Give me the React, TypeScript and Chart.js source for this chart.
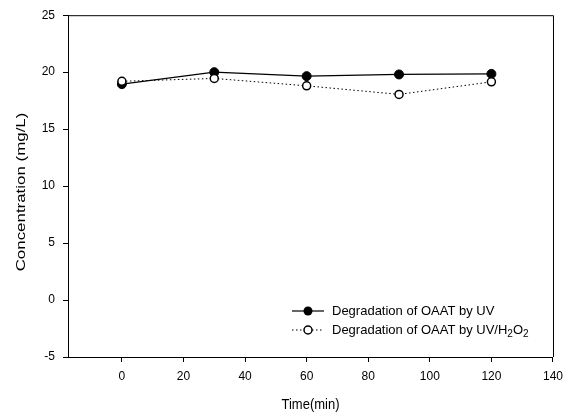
import React, { useEffect, useRef } from "react";
import { Chart, registerables } from "chart.js";

Chart.register(...registerables);

const timeMin = [0, 30, 60, 90, 120];
const uvConc = [18.95, 20.0, 19.65, 19.8, 19.85];
const uvH2O2Conc = [19.2, 19.45, 18.8, 18.05, 19.15];
const xTicks = [0, 20, 40, 60, 80, 100, 120, 140];
const yTicks = [-5, 0, 5, 10, 15, 20, 25];
const xTitle = "Time(min)";
const yTitle = "Concentration (mg/L)";
const legendUV = "Degradation of OAAT by UV";
const legendH2O2Parts = [
  { t: "Degradation of OAAT by UV/H", sub: false },
  { t: "2", sub: true },
  { t: "O", sub: false },
  { t: "2", sub: true },
];

const FONT = "'Liberation Sans', Arial, Helvetica, sans-serif";

const decorPlugin = {
  id: "decor",
  afterDatasetsDraw(chart: any) {
    const { ctx, chartArea } = chart;
    const { left, right, top, bottom } = chartArea;
    ctx.save();
    // frame top & right
    ctx.strokeStyle = "#000";
    ctx.lineWidth = 1;
    ctx.beginPath();
    ctx.moveTo(left, top + 0.5);
    ctx.lineTo(right + 0.5, top + 0.5);
    ctx.lineTo(right + 0.5, bottom);
    ctx.stroke();

    // legend
    const sx0 = 292, sx1 = 324, mx = 308, tx = 332;
    const rows = [311, 330];
    ctx.fillStyle = "#000";
    ctx.setLineDash([]);
    ctx.lineWidth = 1.2;
    ctx.beginPath();
    ctx.moveTo(sx0, rows[0]);
    ctx.lineTo(sx1, rows[0]);
    ctx.stroke();
    ctx.beginPath();
    ctx.arc(mx, rows[0], 4.5, 0, Math.PI * 2);
    ctx.fill();
    ctx.lineWidth = 1;
    ctx.setLineDash([1.5, 2.5]);
    ctx.beginPath();
    ctx.moveTo(sx0, rows[1]);
    ctx.lineTo(sx1, rows[1]);
    ctx.stroke();
    ctx.setLineDash([]);
    ctx.beginPath();
    ctx.arc(mx, rows[1], 4, 0, Math.PI * 2);
    ctx.fillStyle = "#fff";
    ctx.fill();
    ctx.lineWidth = 1.5;
    ctx.stroke();

    ctx.fillStyle = "#000";
    ctx.textBaseline = "middle";
    ctx.textAlign = "left";
    ctx.font = `13px ${FONT}`;
    ctx.fillText(legendUV, tx, rows[0]);
    let x = tx;
    for (const p of legendH2O2Parts) {
      if (p.sub) {
        ctx.font = `10px ${FONT}`;
        ctx.fillText(p.t, x, rows[1] + 4);
      } else {
        ctx.font = `13px ${FONT}`;
        ctx.fillText(p.t, x, rows[1]);
      }
      x += ctx.measureText(p.t).width;
    }

    // y title
    ctx.save();
    ctx.translate(21, 192);
    ctx.rotate(-Math.PI / 2);
    ctx.scale(1.3, 1);
    ctx.font = `13px ${FONT}`;
    ctx.textAlign = "center";
    ctx.textBaseline = "middle";
    ctx.fillText(yTitle, 0, 0);
    ctx.restore();

    // x title
    ctx.save();
    ctx.translate((left + right) / 2, 405);
    ctx.scale(1, 1.15);
    ctx.font = `13px ${FONT}`;
    ctx.textAlign = "center";
    ctx.textBaseline = "middle";
    ctx.fillText(xTitle, 0, 0);
    ctx.restore();
    ctx.restore();
  },
};

export default function App() {
  const ref = useRef<HTMLCanvasElement | null>(null);
  useEffect(() => {
    document.body.style.margin = "0";
    if (!ref.current) return;
    Chart.defaults.font.family = FONT;
    const chart = new Chart(ref.current, {
      type: "line",
      data: {
        datasets: [
          {
            label: legendUV,
            data: timeMin.map((t, i) => ({ x: t, y: uvConc[i] })),
            borderColor: "#000",
            borderWidth: 1.2,
            pointRadius: 4.5,
            pointBackgroundColor: "#000",
            pointBorderColor: "#000",
            pointBorderWidth: 1,
            order: 2,
          },
          {
            label: "Degradation of OAAT by UV/H2O2",
            data: timeMin.map((t, i) => ({ x: t, y: uvH2O2Conc[i] })),
            borderColor: "#000",
            borderWidth: 1,
            borderDash: [1.5, 2.5],
            pointRadius: 4,
            pointBackgroundColor: "#fff",
            pointBorderColor: "#000",
            pointBorderWidth: 1.5,
            order: 1,
          },
        ],
      },
      options: {
        responsive: false,
        animation: false,
        layout: { padding: { left: 0, right: 17, top: 15, bottom: 0 } },
        plugins: { legend: { display: false }, tooltip: { enabled: false } },
        scales: {
          x: {
            type: "linear",
            min: -17.5,
            max: 140,
            afterBuildTicks: (s: any) => {
              s.ticks = xTicks.map((v) => ({ value: v }));
            },
            afterFit: (s: any) => {
              s.height = 59;
            },
            grid: { drawOnChartArea: false, drawTicks: true, tickLength: 5, color: "#000" },
            border: { display: true, color: "#000", width: 1 },
            ticks: { color: "#000", font: { size: 12 }, padding: 7, maxRotation: 0 },
          },
          y: {
            type: "linear",
            min: -5,
            max: 25,
            afterBuildTicks: (s: any) => {
              s.ticks = yTicks.map((v) => ({ value: v }));
            },
            afterFit: (s: any) => {
              s.width = 68;
            },
            grid: { drawOnChartArea: false, drawTicks: true, tickLength: 5, color: "#000" },
            border: { display: true, color: "#000", width: 1 },
            ticks: { color: "#000", font: { size: 12 }, padding: 8 },
          },
        },
      },
      plugins: [decorPlugin],
    } as any);
    return () => chart.destroy();
  }, []);
  return (
    <div style={{ width: 570, height: 416 }}>
      <canvas ref={ref} width={570} height={416} />
    </div>
  );
}
